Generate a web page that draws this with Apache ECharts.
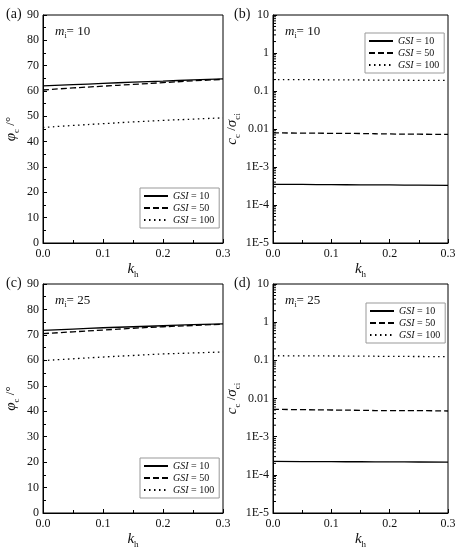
<!DOCTYPE html>
<html><head><meta charset="utf-8">
<script src="https://cdn.jsdelivr.net/npm/echarts@6/dist/echarts.min.js"></script>
<style>html,body{margin:0;padding:0;background:#fff}#c{width:460px;height:550px}</style>
</head><body><div id="c"></div>
<script>
var kh = [0, 0.05, 0.1, 0.15, 0.2, 0.25, 0.3];
var gsiNames = ['GSI = 10', 'GSI = 50', 'GSI = 100'];
// (a) phi_c, m_i = 10
var phiA10 = [62.0, 62.5, 63.0, 63.5, 63.9, 64.4, 64.8];
var phiA50 = [60.4, 61.2, 61.9, 62.6, 63.3, 64.0, 64.6];
var phiA100 = [45.6, 46.4, 47.1, 47.8, 48.4, 48.9, 49.4];
// (c) phi_c, m_i = 25
var phiC10 = [71.8, 72.3, 72.8, 73.2, 73.6, 74.0, 74.3];
var phiC50 = [70.5, 71.2, 71.9, 72.6, 73.2, 73.7, 74.2];
var phiC100 = [59.9, 60.6, 61.3, 61.9, 62.5, 62.9, 63.3];
// (b) c_c/sigma_ci, m_i = 10
var cB10 = [3.5e-4, 3.47e-4, 3.43e-4, 3.4e-4, 3.37e-4, 3.33e-4, 3.3e-4];
var cB50 = [0.0079, 0.0078, 0.0077, 0.0076, 0.0074, 0.0073, 0.0072];
var cB100 = [0.200, 0.199, 0.197, 0.195, 0.193, 0.191, 0.190];
// (d) c_c/sigma_ci, m_i = 25
var cD10 = [2.25e-4, 2.23e-4, 2.21e-4, 2.2e-4, 2.18e-4, 2.17e-4, 2.15e-4];
var cD50 = [0.0052, 0.0051, 0.0050, 0.0049, 0.0048, 0.0048, 0.0047];
var cD100 = [0.132, 0.131, 0.130, 0.129, 0.127, 0.126, 0.125];
var linTicks = [0, 10, 20, 30, 40, 50, 60, 70, 80, 90];
var logTickLabels = {'1':'10','0':'1','-1':'0.1','-2':'0.01','-3':'1E-3','-4':'1E-4','-5':'1E-5'};
var panelLabels = ['(a)', '(b)', '(c)', '(d)'];
var miValues = ['10', '10', '25', '25'];

var FONT = 'Liberation Serif';
function pairs(y){ return kh.map(function(x,i){ return [x, y[i]]; }); }
var lineTypes = ['solid', [6, 3], [1.5, 3.5]];

var grids = [
  {left: 43, top: 15, width: 180, height: 228},
  {left: 273, top: 15, width: 175, height: 228},
  {left: 43, top: 284, width: 180, height: 229},
  {left: 273, top: 284, width: 175, height: 229}
];
var isLog = [false, true, false, true];
var dataSets = [[phiA10, phiA50, phiA100], [cB10, cB50, cB100], [phiC10, phiC50, phiC100], [cD10, cD50, cD100]];

var xAxes = [], yAxes = [], series = [], legends = [], graphics = [];
var richBase = {
  i: {fontFamily: FONT, fontStyle: 'italic', fontSize: 15, lineHeight: 20, verticalAlign: 'middle', color: '#111'},
  s: {fontFamily: FONT, fontSize: 9, lineHeight: 20, verticalAlign: 'bottom', color: '#111'},
  n: {fontFamily: FONT, fontSize: 13, lineHeight: 20, verticalAlign: 'middle', color: '#111'},
  g: {fontFamily: FONT, fontStyle: 'italic', fontSize: 15, lineHeight: 20, verticalAlign: 'middle', color: '#111'}
};
grids.forEach(function(g, gi){
  g.show = true; g.borderColor = '#000'; g.borderWidth = 1; g.containLabel = false;
  xAxes.push({
    type: 'value', gridIndex: gi, min: 0, max: 0.3, interval: 0.1,
    axisLine: {show: true, onZero: false, lineStyle: {color: '#000', width: 1}},
    axisTick: {show: true, inside: true, length: 4, lineStyle: {color: '#000'}},
    minorTick: {show: true, splitNumber: 2, length: 3, lineStyle: {color: '#000'}},
    splitLine: {show: false},
    axisLabel: {fontFamily: FONT, fontSize: 12, color: '#111', margin: 5, formatter: function(v){ return v.toFixed(1); }},
    name: '{i|k}{s|h}', nameLocation: 'middle', nameGap: 16,
    nameTextStyle: {rich: richBase}
  });
  if (!isLog[gi]) {
    yAxes.push({
      type: 'value', gridIndex: gi, min: linTicks[0], max: linTicks[linTicks.length-1], interval: 10,
      axisLine: {show: true, lineStyle: {color: '#000', width: 1}},
      axisTick: {show: true, inside: true, length: 4, lineStyle: {color: '#000'}},
      minorTick: {show: true, splitNumber: 2, length: 3, lineStyle: {color: '#000'}},
      splitLine: {show: false},
      axisLabel: {fontFamily: FONT, fontSize: 12, color: '#111', margin: 4},
      name: '{g|φ}{s|c}{n| /°}', nameLocation: 'middle', nameGap: 22,
      nameTextStyle: {rich: richBase}
    });
  } else {
    yAxes.push({
      type: 'log', logBase: 10, gridIndex: gi, min: 1e-5, max: 10,
      axisLine: {show: true, lineStyle: {color: '#000', width: 1}},
      axisTick: {show: true, inside: true, length: 4, lineStyle: {color: '#000'}},
      splitLine: {show: false},
      axisLabel: {fontFamily: FONT, fontSize: 12, color: '#111', margin: 4,
        formatter: function(v){ var e = Math.round(Math.log10(v)); return logTickLabels[String(e)] || ''; }},
      name: '{i|c}{s|c}{n| /}{g|σ}{s|ci}', nameLocation: 'middle', nameGap: 28,
      nameTextStyle: {rich: richBase}
    });
    // minor log ticks (axis decoration)
    var minor = [];
    for (var e = -5; e < 1; e++) for (var k = 2; k <= 9; k++) minor.push([0, k * Math.pow(10, e)]);
    series.push({
      type: 'custom', xAxisIndex: gi, yAxisIndex: gi, silent: true, clip: false,
      data: minor,
      renderItem: function(params, api){
        var p = api.coord([api.value(0), api.value(1)]);
        return {type: 'line', shape: {x1: p[0], y1: p[1], x2: p[0] + 3, y2: p[1]}, style: {stroke: '#000', lineWidth: 1}};
      }
    });
  }
  dataSets[gi].forEach(function(arr, si){
    series.push({
      type: 'line', name: gsiNames[si], xAxisIndex: gi, yAxisIndex: gi,
      data: pairs(arr), symbol: 'none', smooth: true,
      lineStyle: {color: '#000', width: 1.3, type: lineTypes[si]},
      itemStyle: {color: '#000'}
    });
  });
  graphics.push({type: 'text', left: (gi % 2 === 0 ? 6 : 234), top: (gi < 2 ? 7 : 276),
    style: {text: panelLabels[gi], font: '14px ' + FONT, fill: '#111'}});
  graphics.push({type: 'text', left: g.left + 12, top: g.top + 10,
    style: {text: '{i|m}{s|i}{n|= ' + miValues[gi] + '}', rich: {
      i: {fontFamily: FONT, fontStyle: 'italic', fontSize: 13, lineHeight: 16, verticalAlign: 'middle', fill: '#111'},
      s: {fontFamily: FONT, fontSize: 8, lineHeight: 16, verticalAlign: 'bottom', fill: '#111'},
      n: {fontFamily: FONT, fontSize: 13, lineHeight: 16, verticalAlign: 'middle', fill: '#111'}
    }}});
});
var legendPos = [
  {left: 140, top: 188},
  {left: 365, top: 33},
  {left: 140, top: 458},
  {left: 366, top: 303}
];
legendPos.forEach(function(p){
  legends.push({
    left: p.left, top: p.top, orient: 'vertical', data: gsiNames,
    itemWidth: 24, itemHeight: 8, itemGap: 2, padding: [3, 5, 3, 3],
    borderColor: '#999', borderWidth: 1, backgroundColor: '#fff',
    selectedMode: false,
    itemStyle: {opacity: 0},
    formatter: function(n){ return '{i|GSI}{n|' + n.slice(3) + '}'; },
    textStyle: {rich: {
      i: {fontFamily: FONT, fontStyle: 'italic', fontSize: 10, color: '#111'},
      n: {fontFamily: FONT, fontSize: 10, color: '#111'}
    }}
  });
});
var chart = echarts.init(document.getElementById('c'), null, {renderer: 'canvas'});
chart.setOption({
  animation: false, backgroundColor: '#fff',
  grid: grids, xAxis: xAxes, yAxis: yAxes, series: series, legend: legends, graphic: graphics
});
</script></body></html>
